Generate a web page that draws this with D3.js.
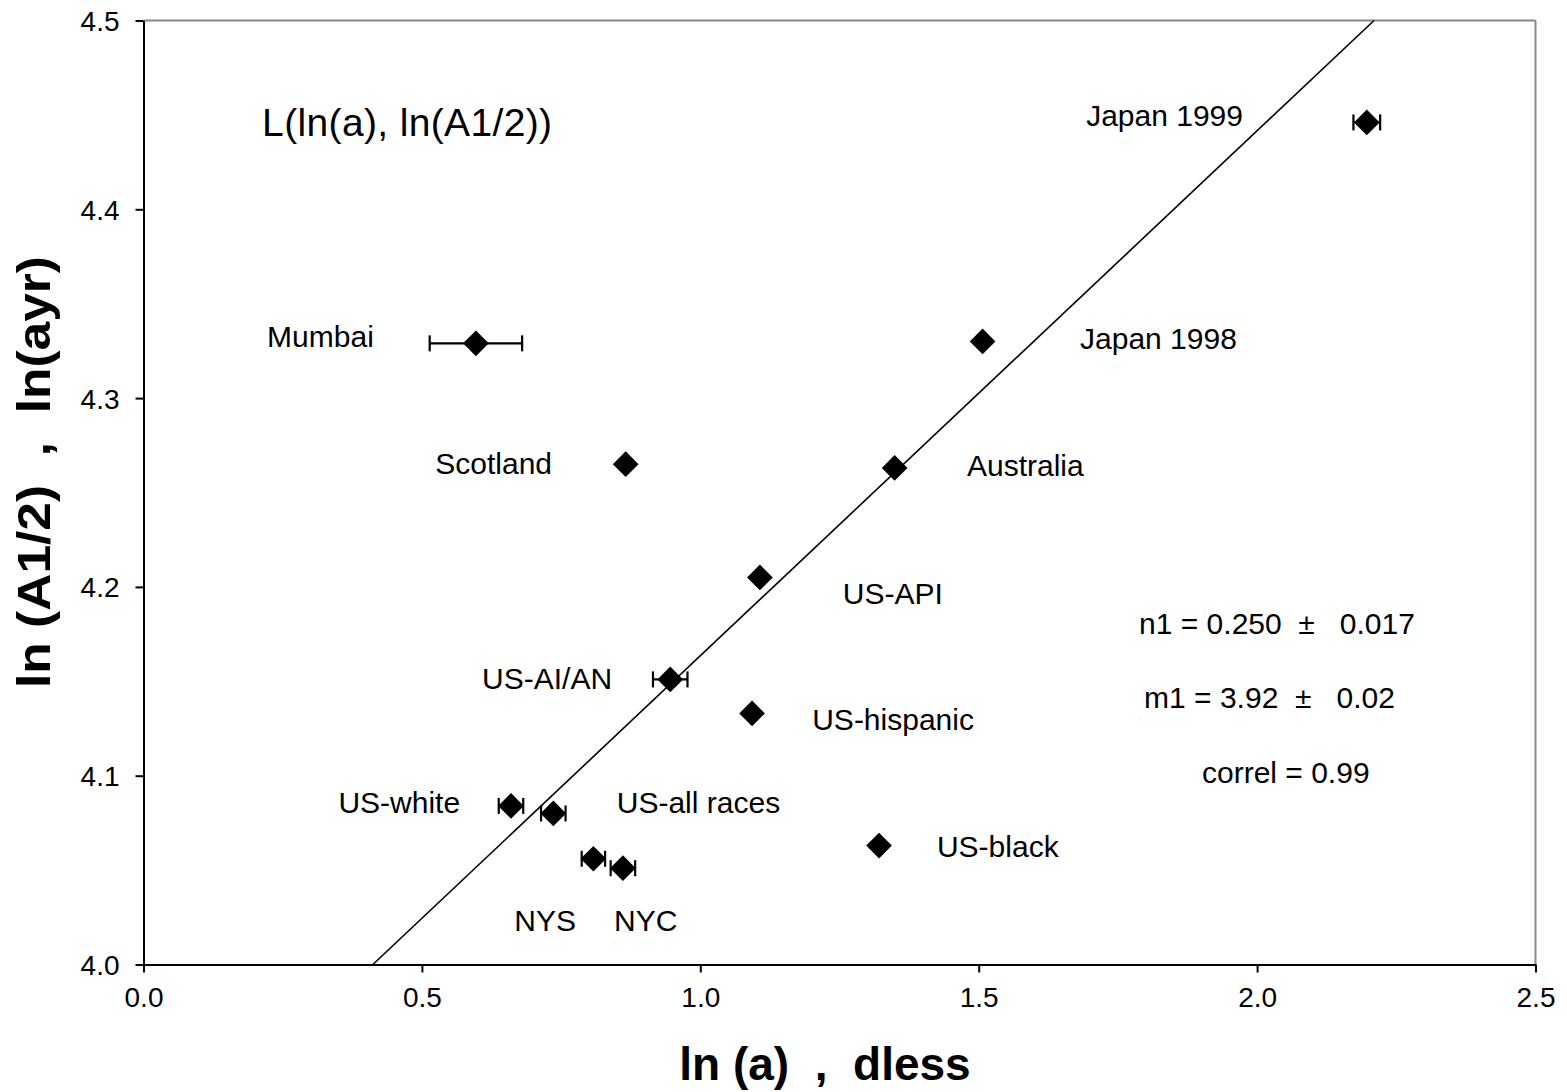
<!DOCTYPE html>
<html><head><meta charset="utf-8">
<script src="https://cdn.jsdelivr.net/npm/d3@7"></script>
<style>
html,body{margin:0;padding:0;background:#fff;}
text{font-family:"Liberation Sans",Arial,sans-serif;white-space:pre;}
</style></head>
<body>
<svg id="chart" width="1567" height="1092"></svg>
<script>
// ---- data ----
const regions = ["Japan 1999","Mumbai","Japan 1998","Scotland","Australia","US-API","US-AI/AN","US-hispanic","US-white","US-all races","NYS","NYC","US-black"];
const lnA     = [2.197, 0.597, 1.507, 0.866, 1.349, 1.107, 0.946, 1.093, 0.660, 0.736, 0.808, 0.861, 1.321];
const lnA12   = [4.446, 4.329, 4.330, 4.265, 4.263, 4.205, 4.151, 4.133, 4.084, 4.080, 4.056, 4.051, 4.063];
const lnAErr  = [0.024, 0.083, 0,     0,     0,     0,     0.031, 0,     0.022, 0.022, 0.021, 0.022, 0];

const labelText = ["Japan 1999","Mumbai","Japan 1998","Scotland","Australia","US-API","US-AI/AN","US-hispanic","US-white","US-all races","NYS","NYC","US-black"];
const labelX    = [1.693, 0.222, 1.682, 0.524, 1.479, 1.256, 0.608, 1.201, 0.350, 0.850, 0.666, 0.845, 1.425];
const labelY    = [4.444, 4.327, 4.326, 4.260, 4.259, 4.191, 4.146, 4.124, 4.080, 4.080, 4.018, 4.018, 4.057];

const fitX = [0.412, 2.210];
const fitY = [4.0, 4.5];

const noteText = ["n1 = 0.250  \u00b1   0.017", "m1 = 3.92  \u00b1   0.02", "correl = 0.99"];
const noteX = [1.788, 1.797, 1.901];
const noteY = [4.175, 4.136, 4.096];

const chartTitle = "L(ln(a), ln(A1/2))";
const titleX = 0.213, titleY = 4.439;

const xTicks = [0.0, 0.5, 1.0, 1.5, 2.0, 2.5];
const yTicks = [4.0, 4.1, 4.2, 4.3, 4.4, 4.5];
const xTitle = "ln (a)  ,  dless";
const yTitle = "ln (A1/2)  ,  ln(ayr)";

// ---- drawing ----
const svg = d3.select("#chart");
const L = 143.5, R = 1535.5, T = 20.5, B = 964.5;
const x = d3.scaleLinear().domain([0, 2.5]).range([L, R]);
const y = d3.scaleLinear().domain([4.0, 4.5]).range([B, T]);

// frame top/right grey
svg.append("line").attr("x1", L).attr("x2", R).attr("y1", T).attr("y2", T).attr("stroke", "#888").attr("stroke-width", 2);
svg.append("line").attr("x1", R).attr("x2", R).attr("y1", T).attr("y2", B).attr("stroke", "#888").attr("stroke-width", 2);

// axes
const xAxis = svg.append("g").attr("transform", `translate(0,${B})`)
  .call(d3.axisBottom(x).tickValues(xTicks).tickFormat(d3.format(".1f")).tickSize(8).tickSizeOuter(0).tickPadding(15));
const yAxis = svg.append("g").attr("transform", `translate(${L},0)`)
  .call(d3.axisLeft(y).tickValues(yTicks).tickFormat(d3.format(".1f")).tickSize(8).tickSizeOuter(0).tickPadding(16));
[xAxis, yAxis].forEach(g => {
  g.attr("font-size", 28).attr("font-family", "Liberation Sans, Arial, sans-serif");
  g.select(".domain").attr("stroke", "#000").attr("stroke-width", 2);
  g.selectAll(".tick line").attr("stroke", "#000").attr("stroke-width", 2);
  g.selectAll(".tick text").attr("font-size", 28).attr("fill", "#000");
});
yAxis.selectAll(".tick text").attr("dy", "0.36em");

// fit line
svg.append("line")
  .attr("x1", x(fitX[0])).attr("y1", y(fitY[0]))
  .attr("x2", x(fitX[1])).attr("y2", y(fitY[1]))
  .attr("stroke", "#000").attr("stroke-width", 1.6);

const pts = regions.map((r, i) => ({r, x: lnA[i], y: lnA12[i], e: lnAErr[i]}));

// error bars
const eb = svg.append("g").attr("stroke", "#000").attr("stroke-width", 2.2);
pts.filter(d => d.e > 0).forEach(d => {
  eb.append("line").attr("x1", x(d.x - d.e)).attr("x2", x(d.x + d.e)).attr("y1", y(d.y)).attr("y2", y(d.y));
  [d.x - d.e, d.x + d.e].forEach(v => {
    eb.append("line").attr("x1", x(v)).attr("x2", x(v)).attr("y1", y(d.y) - 8).attr("y2", y(d.y) + 8);
  });
});

// diamonds
const sym = d3.symbol().type(d3.symbolSquare).size(330);
svg.append("g").selectAll("path").data(pts).join("path")
  .attr("d", sym)
  .attr("transform", d => `translate(${x(d.x)},${y(d.y)}) rotate(45)`)
  .attr("fill", "#000");

// labels
svg.append("g").selectAll("text").data(labelText).join("text")
  .attr("x", (d, i) => x(labelX[i])).attr("y", (d, i) => y(labelY[i]))
  .attr("font-size", 30).attr("fill", "#000").text(d => d);

// notes
svg.append("g").selectAll("text").data(noteText).join("text")
  .attr("x", (d, i) => x(noteX[i])).attr("y", (d, i) => y(noteY[i]))
  .attr("font-size", 30).attr("fill", "#000").text(d => d);

// inner title
svg.append("text").attr("x", x(titleX)).attr("y", y(titleY))
  .attr("font-size", 39).attr("textLength", 290).attr("lengthAdjust", "spacing")
  .attr("fill", "#000").text(chartTitle);

// axis titles
svg.append("text").attr("x", 825).attr("y", 1080).attr("text-anchor", "middle")
  .attr("font-size", 46).attr("font-weight", "bold").attr("fill", "#000").text(xTitle);
svg.append("text").attr("transform", "translate(50,472) rotate(-90)").attr("text-anchor", "middle")
  .attr("font-size", 46).attr("font-weight", "bold").attr("fill", "#000")
  .attr("textLength", 432).attr("lengthAdjust", "spacingAndGlyphs").text(yTitle);
</script>
</body></html>
